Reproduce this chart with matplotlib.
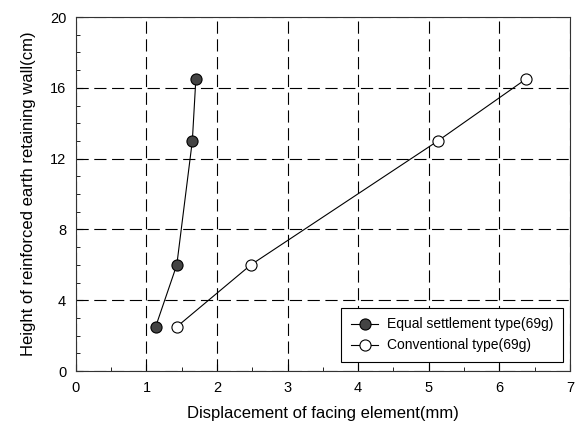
import matplotlib
matplotlib.use("Agg")
import matplotlib.pyplot as plt
from matplotlib.ticker import MultipleLocator

plt.rcParams['font.family'] = ['Liberation Sans', 'DejaVu Sans']

# data
height = [2.5, 6, 13, 16.5]
disp_equal = [1.13, 1.43, 1.65, 1.70]
disp_conv = [1.43, 2.48, 5.13, 6.38]

fig = plt.figure(figsize=(5.75, 4.37), dpi=100)
ax = fig.add_axes([0.132, 0.151, 0.859, 0.810])

ax.plot(disp_equal, height, '-o', color='black', lw=0.8, ms=8,
        mfc='#444444', mec='black', mew=0.8, label='Equal settlement type(69g)')
ax.plot(disp_conv, height, '-o', color='black', lw=0.8, ms=8,
        mfc='white', mec='black', mew=0.8, label='Conventional type(69g)')

ax.set_xlim(0, 7)
ax.set_ylim(0, 20)
ax.xaxis.set_major_locator(MultipleLocator(1))
ax.xaxis.set_minor_locator(MultipleLocator(0.5))
ax.yaxis.set_major_locator(MultipleLocator(4))
ax.yaxis.set_minor_locator(MultipleLocator(1))
ax.tick_params(which='both', direction='in', top=False, right=False, labelsize=10.5)
ax.tick_params(which='major', length=5, pad=7)
ax.tick_params(which='minor', length=3)
ax.grid(True, which='major', color='black', linestyle=(0, (11, 5)), lw=0.8)

for s in ax.spines.values():
    s.set_color('#333333')

ax.set_xlabel('Displacement of facing element(mm)', fontsize=12, labelpad=8)
ax.set_ylabel('Height of reinforced earth retaining wall(cm)', fontsize=12, labelpad=10)

leg = ax.legend(loc='lower right', fontsize=10, fancybox=False, framealpha=1,
                edgecolor='black', borderpad=0.7, handlelength=2.0,
                handletextpad=0.6, borderaxespad=0,
                bbox_to_anchor=(0.986, 0.025))
leg.get_frame().set_linewidth(0.8)

fig.savefig('out.png', dpi=100)
